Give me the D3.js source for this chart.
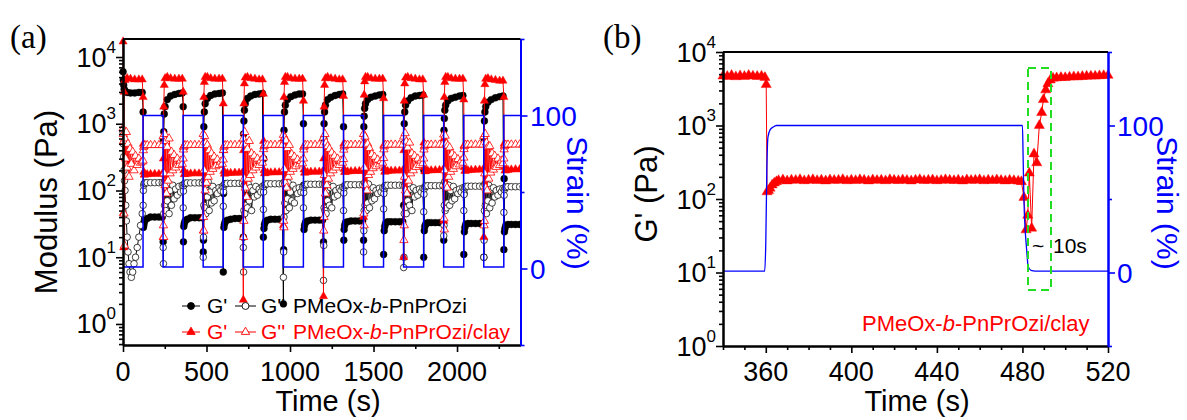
<!DOCTYPE html>
<html><head><meta charset="utf-8">
<script src="https://cdn.jsdelivr.net/npm/d3@7"></script>
<style>body{margin:0;background:#fff}svg{display:block;font-family:Arial,"Liberation Sans",sans-serif}</style>
</head><body><svg id="c" width="1187" height="420"></svg>
<script>
// ---------------- DATA ----------------
// Panel (a): 20 alternating 120 s segments (even = low strain / recovery, odd = 100 % strain)
const segmentSeconds = 120;
const offBar = [0.5, 2, 4, 7, 12, 25, 45, 70, 95, 115];
const offCloud = [0.5, 2, 4, 6, 9, 12, 16, 20, 25, 30, 36, 42, 50, 58, 66, 75, 85, 95, 105, 115];

// G' PMeOx-b-PnPrOzi (filled circles)
const neatGp = [
  [6000, 4500, 3800, 3300, 3100, 2950, 2900, 2900, 2950, 2950],
  [1500, 28, 30, 33, 36, 38, 40, 40, 40, 40],
  [17, 580, 760, 1400, 1800, 2300, 2600, 2750, 2850, 2900],
  [1800, 17, 29, 32, 35, 37, 39, 39, 39, 39],
  [12, 18, 900, 1500, 2000, 2400, 2650, 2800, 2850, 2900],
  [6, 90, 28, 31, 34, 36, 37, 38, 38, 38],
  [20, 700, 1100, 1600, 2000, 2400, 2600, 2750, 2800, 2850],
  [20, 300, 27, 31, 34, 36, 37, 37, 37, 37],
  [2, 13, 800, 1500, 1900, 2300, 2550, 2700, 2800, 2800],
  [1000, 120, 26, 30, 33, 35, 36, 36, 36, 36],
  [17, 600, 1000, 1500, 1900, 2300, 2500, 2650, 2750, 2800],
  [900, 18, 26, 30, 33, 34, 35, 35, 35, 35],
  [18, 900, 1300, 1700, 2000, 2300, 2500, 2600, 2700, 2750],
  [11, 100, 25, 29, 32, 34, 34, 34, 34, 34],
  [60, 500, 1000, 1500, 1900, 2200, 2450, 2600, 2650, 2700],
  [10, 200, 25, 29, 31, 33, 33, 33, 33, 33],
  [18, 800, 1200, 1600, 1900, 2200, 2400, 2500, 2600, 2650],
  [11, 90, 24, 28, 31, 32, 32, 32, 32, 32],
  [10, 600, 1100, 1500, 1800, 2100, 2300, 2450, 2550, 2600],
  [13, 150, 24, 27, 30, 31, 31, 31, 31, 31]
];
// G'' PMeOx-b-PnPrOzi (open circles)
const neatGpp = [
  [750, 500, 320, 200, 140, 100, 60, 35, 20, 12, 8, 6, 5, 6, 8, 10, 14, 20, 30, 45],
  [60, 100, 120, 128, 130, 131, 131, 131, 131, 131],
  [14, 8, 45, 130, 60, 140, 50, 110, 70, 130, 45, 100, 60, 120, 75, 105, 85, 115, 95, 120],
  [55, 98, 118, 126, 129, 130, 130, 130, 130, 130],
  [10, 20, 60, 140, 55, 120, 45, 100, 80, 135, 50, 95, 65, 115, 70, 100, 90, 110, 100, 115],
  [58, 96, 116, 124, 127, 128, 128, 128, 128, 128],
  [14, 6, 50, 120, 45, 135, 60, 105, 55, 125, 70, 110, 50, 100, 80, 115, 85, 105, 95, 115],
  [52, 95, 114, 122, 125, 126, 126, 126, 126, 126],
  [5, 12, 40, 135, 65, 125, 50, 110, 75, 130, 55, 95, 70, 120, 65, 105, 90, 110, 95, 112],
  [55, 93, 112, 120, 123, 124, 124, 124, 124, 124],
  [4.5, 15, 55, 125, 50, 140, 45, 100, 70, 120, 60, 110, 55, 115, 80, 100, 85, 108, 100, 112],
  [50, 92, 110, 118, 121, 122, 122, 122, 122, 122],
  [12, 25, 50, 130, 60, 120, 50, 105, 65, 125, 55, 100, 70, 110, 75, 100, 90, 108, 95, 110],
  [53, 90, 108, 116, 119, 120, 120, 120, 120, 120],
  [7, 10, 45, 120, 55, 130, 45, 95, 70, 125, 60, 105, 50, 110, 80, 100, 85, 105, 95, 108],
  [48, 88, 106, 114, 117, 118, 118, 118, 118, 118],
  [21, 30, 60, 135, 50, 125, 55, 110, 65, 120, 60, 100, 70, 115, 75, 100, 90, 105, 95, 110],
  [50, 87, 105, 112, 115, 116, 116, 116, 116, 116],
  [10, 18, 50, 125, 60, 130, 45, 100, 70, 120, 55, 105, 65, 110, 80, 100, 85, 105, 95, 108],
  [47, 85, 103, 110, 113, 114, 114, 114, 114, 114]
];
// G' PMeOx-b-PnPrOzi/clay (filled triangles)
const clayGp = [
  [17000, 46, 14, 3000, 4500, 4800, 4700, 4600, 4600, 4600],
  [2500, 500, 190, 172, 174, 175, 176, 177, 177, 178],
  [20, 300, 1800, 3800, 4800, 5000, 4800, 4700, 4700, 4700],
  [3000, 450, 200, 175, 177, 178, 179, 180, 180, 180],
  [25, 500, 2500, 4200, 5000, 5000, 4800, 4700, 4700, 4700],
  [2000, 400, 195, 178, 180, 182, 183, 184, 184, 185],
  [2.3, 400, 2000, 4000, 4900, 5000, 4800, 4700, 4600, 4600],
  [2800, 550, 200, 180, 183, 185, 186, 187, 187, 188],
  [30, 600, 2500, 4200, 5000, 5000, 4800, 4700, 4700, 4700],
  [2200, 450, 205, 184, 186, 188, 190, 191, 191, 192],
  [2.6, 300, 1800, 3800, 4800, 5000, 4800, 4700, 4600, 4600],
  [2600, 500, 210, 188, 190, 192, 194, 195, 195, 196],
  [40, 700, 2700, 4300, 5000, 5000, 4800, 4700, 4700, 4700],
  [2400, 480, 215, 190, 193, 195, 197, 198, 198, 199],
  [10, 400, 2200, 4000, 4900, 5000, 4800, 4700, 4600, 4600],
  [2700, 520, 220, 193, 196, 198, 200, 201, 202, 202],
  [35, 600, 2500, 4200, 5000, 5000, 4800, 4700, 4700, 4700],
  [2300, 470, 222, 196, 199, 200, 203, 204, 205, 205],
  [20, 500, 2200, 3900, 4700, 4800, 4600, 4500, 4400, 4400],
  [2500, 500, 225, 198, 201, 203, 206, 207, 208, 208]
];
// G'' PMeOx-b-PnPrOzi/clay (open triangles)
const clayGpp = [
  [850, 700, 550, 45, 15, 600, 300, 750, 220, 500, 160, 420, 250, 380, 200, 330, 240, 300, 260, 270],
  [280, 400, 450, 470, 475, 478, 478, 478, 478, 478],
  [650, 30, 20, 180, 700, 120, 550, 90, 450, 140, 600, 180, 380, 200, 340, 220, 300, 240, 280, 250],
  [300, 410, 455, 472, 476, 478, 480, 480, 480, 480],
  [700, 40, 25, 200, 650, 100, 520, 130, 480, 160, 400, 190, 360, 210, 320, 230, 290, 240, 270, 250],
  [290, 405, 452, 470, 476, 479, 480, 481, 481, 481],
  [600, 20, 35, 150, 750, 110, 500, 80, 420, 150, 550, 170, 360, 200, 330, 220, 300, 240, 280, 260],
  [310, 415, 458, 474, 478, 480, 482, 482, 482, 482],
  [680, 35, 28, 210, 620, 130, 560, 110, 430, 160, 480, 190, 350, 210, 320, 230, 290, 245, 275, 255],
  [300, 410, 455, 472, 478, 481, 483, 483, 483, 483],
  [620, 25, 40, 170, 700, 90, 520, 120, 460, 150, 420, 180, 370, 200, 330, 220, 300, 240, 280, 260],
  [295, 408, 456, 473, 479, 482, 484, 484, 484, 484],
  [700, 45, 30, 220, 640, 120, 480, 100, 500, 170, 430, 190, 350, 215, 320, 230, 290, 245, 275, 260],
  [305, 412, 458, 475, 480, 483, 485, 485, 485, 485],
  [640, 18, 30, 160, 720, 100, 540, 90, 440, 140, 520, 180, 360, 200, 330, 225, 300, 240, 280, 255],
  [300, 410, 457, 474, 480, 484, 486, 486, 486, 486],
  [690, 38, 26, 200, 660, 120, 500, 110, 470, 160, 440, 190, 355, 210, 325, 230, 295, 245, 280, 260],
  [310, 415, 460, 476, 482, 485, 487, 487, 487, 487],
  [650, 30, 35, 180, 700, 110, 520, 100, 450, 150, 460, 185, 360, 205, 330, 225, 300, 240, 280, 255],
  [300, 412, 458, 475, 482, 486, 488, 488, 488, 488]
];
// strain (%) panel (a): [time s, strain %]
const strainA = [[0,1],[120,1],[120,100],[240,100],[240,1],[360,1],[360,100],[480,100],[480,1],[600,1],[600,100],[720,100],[720,1],[840,1],[840,100],[960,100],[960,1],[1080,1],[1080,100],[1200,100],[1200,1],[1320,1],[1320,100],[1440,100],[1440,1],[1560,1],[1560,100],[1680,100],[1680,1],[1800,1],[1800,100],[1920,100],[1920,1],[2040,1],[2040,100],[2160,100],[2160,1],[2280,1],[2280,100],[2380,100]];

// Panel (b): G' of PMeOx-b-PnPrOzi/clay [time s, Pa]
const clayGpB = [[340,4700],[342,4650],[344,4800],[346,4600],[348,4750],[350,4650],[352,4800],[354,4700],[356,4650],[358,4700],[359.6,4500],
 [360.2,3600],[360.6,125],[361.3,130],[362,140],[363,155],[364,165],[365,172],
 [366,178],[368,182],[370,176],[372,181],[374,179],[376,184],[378,177],[380,180],[382,183],[384,178],[386,181],[388,176],[390,182],[392,179],[394,180],[396,184],[398,177],[400,181],[402,178],[404,183],[406,180],[408,176],[410,182],[412,179],[414,181],[416,177],[418,183],[420,180],[422,178],[424,182],[426,179],[428,176],[430,181],[432,184],[434,178],[436,180],[438,182],[440,177],[442,179],[444,183],[446,180],[448,178],[450,181],[452,176],[454,182],[456,179],[458,180],[460,183],[462,177],[464,181],[466,178],[468,182],[470,179],[472,176],[474,180],[476,178],[478,175],[479.5,172],
 [480.7,105],[481.7,38],[482.5,60],[483.2,225],[484.3,40],[485.4,410],[486.7,310],[487.9,1000],[489,1500],[489.8,2250],[490.9,3050],[491.9,3700],[493,4150],[494.3,4400],[496,4450],[498,4500],[500,4480],[502,4550],[504,4600],[506,4580],[508,4650],[510,4680],[512,4700],[514,4690],[516,4750],[518,4780],[520,4800]];
const strainB = [[340,1],[359.5,1],[360,20],[360.5,70],[361,92],[362,97],[363.5,99],[365,100],[480,100],[480.3,80],[480.7,49],[482,15],[482.7,4],[484,1.5],[486,1],[520,1]];

const xTicksA = [0, 500, 1000, 1500, 2000];
const xMinorA = [250, 750, 1250, 1750, 2250];
const xTicksB = [360, 400, 440, 480, 520];
const yExpA = [0, 1, 2, 3, 4];
const yExpB = [0, 1, 2, 3, 4];
const strainTicks = [0, 100];
const strainMinor = [-50, 50, 150];
const legendNames = ['PMeOx-b-PnPrOzi', 'PMeOx-b-PnPrOzi/clay'];

// ---------------- DRAW ----------------
const RED = '#ff0000', BLUE = '#0000ff', BLK = '#000';
const SERIF = '"Liberation Serif","Times New Roman",serif';
const svg = d3.select('#c');

function expand(segs, lowOff) {
  const pts = [];
  segs.forEach((vals, i) => {
    const off = (i % 2 === 0) ? lowOff : offBar;
    vals.forEach((v, j) => pts.push({ t: i * segmentSeconds + off[j], v }));
  });
  return pts;
}
function drawSeries(g, pts, x, y, color, filled, shape, size, sw) {
  g.append('path').datum(pts).attr('fill', 'none').attr('stroke', color).attr('stroke-width', sw || 1)
    .attr('d', d3.line().x(d => x(d.t)).y(d => y(d.v)));
  const sym = d3.symbol().type(shape === 'tri' ? d3.symbolTriangle : d3.symbolCircle).size(size);
  g.append('g').selectAll('path').data(pts).join('path')
    .attr('transform', d => `translate(${x(d.t)},${y(d.v)})`).attr('d', sym)
    .attr('fill', filled ? color : '#fff').attr('stroke', color)
    .attr('stroke-width', filled ? 0.4 : 0.8);
}
function powLabel(g, x, y, e, fs) {
  const t = g.append('text').attr('x', x).attr('y', y + 9.5).attr('text-anchor', 'end').attr('font-size', fs).attr('fill', BLK);
  t.append('tspan').text('10');
  t.append('tspan').attr('dy', -14).attr('font-size', 17).text(e);
}
function nameText(t, name) {
  const parts = name.split('-b-');
  t.append('tspan').text(parts[0] + '-');
  t.append('tspan').attr('font-style', 'italic').text('b');
  t.append('tspan').text('-' + parts[1]);
}
function minorLog(scale) {
  return scale.ticks().filter(v => Math.abs(Math.log10(v) - Math.round(Math.log10(v))) > 1e-6);
}

// ===== Panel A =====
const A = { l: 123, r: 520.5, t: 39, b: 345 };
const xA = d3.scaleLinear().domain([0, 2380]).range([A.l, A.r]);
const yA = d3.scaleLog().domain([Math.pow(10, -0.315), Math.pow(10, 4.27)]).range([A.b, A.t]);
const y2A = d3.scaleLinear().domain([-50, 150]).range([A.b, A.t]);

svg.append('clipPath').attr('id', 'clipA').append('rect').attr('x', A.l - 10).attr('y', A.t - 10).attr('width', A.r - A.l + 10).attr('height', A.b - A.t + 20);
const gA = svg.append('g').attr('clip-path', 'url(#clipA)');
drawSeries(gA, expand(neatGp, offBar), xA, yA, BLK, true, 'circle', 38);
drawSeries(gA, expand(neatGpp, offCloud), xA, yA, '#111', false, 'circle', 34);
drawSeries(gA, expand(clayGp, offBar), xA, yA, RED, true, 'tri', 30);
drawSeries(gA, expand(clayGpp, offCloud), xA, yA, RED, false, 'tri', 30);
gA.append('path').datum(strainA).attr('fill', 'none').attr('stroke', BLUE).attr('stroke-width', 1.5)
  .attr('d', d3.line().x(d => xA(d[0])).y(d => y2A(d[1])));

// axes A
const axA = svg.append('g');
axA.append('g').attr('transform', `translate(0,${A.b})`).call(d3.axisBottom(xA).tickValues(xTicksA).tickSize(7).tickSizeOuter(0).tickFormat(''));
axA.append('g').attr('transform', `translate(0,${A.b})`).call(d3.axisBottom(xA).tickValues(xMinorA).tickSize(4).tickSizeOuter(0).tickFormat(''));
axA.append('g').attr('transform', `translate(${A.l},0)`).call(d3.axisLeft(yA).tickValues(yExpA.map(e => Math.pow(10, e))).tickSize(7).tickSizeOuter(0).tickFormat(''));
axA.append('g').attr('transform', `translate(${A.l},0)`).call(d3.axisLeft(yA).tickValues(minorLog(yA)).tickSize(4).tickSizeOuter(0).tickFormat(''));
axA.selectAll('path.domain').attr('stroke', BLK).attr('stroke-width', 2);
axA.selectAll('line').attr('stroke', BLK).attr('stroke-width', 1.6);
const axA2 = svg.append('g').attr('transform', `translate(${A.r},0)`);
axA2.append('g').call(d3.axisRight(y2A).tickValues(strainTicks).tickSize(7).tickSizeOuter(0).tickFormat(''));
axA2.append('g').call(d3.axisRight(y2A).tickValues(strainMinor).tickSize(4).tickSizeOuter(0).tickFormat(''));
axA2.selectAll('path.domain').attr('stroke', BLUE).attr('stroke-width', 2);
axA2.selectAll('line').attr('stroke', BLUE).attr('stroke-width', 1.6);
svg.append('line').attr('x1', A.l).attr('x2', A.r).attr('y1', A.t).attr('y2', A.t).attr('stroke', BLK).attr('stroke-width', 2);

// labels A
xTicksA.forEach(v => svg.append('text').attr('x', xA(v)).attr('y', 381).attr('text-anchor', 'middle').attr('font-size', 27).text(v));
yExpA.forEach(e => powLabel(svg, 116, yA(Math.pow(10, e)), e, 27));
strainTicks.forEach(v => svg.append('text').attr('x', 530).attr('y', y2A(v) + 10).attr('font-size', 28).attr('fill', BLUE).text(v));
svg.append('text').attr('x', 328).attr('y', 411).attr('text-anchor', 'middle').attr('font-size', 29).text('Time (s)');
svg.append('text').attr('transform', 'translate(57,202) rotate(-90)').attr('text-anchor', 'middle').attr('font-size', 31).text('Modulus (Pa)');
svg.append('text').attr('transform', 'translate(567,203) rotate(90)').attr('text-anchor', 'middle').attr('font-size', 30).attr('fill', BLUE).text('Strain (%)');
svg.append('text').attr('x', 10).attr('y', 48).style('font-family', SERIF).attr('font-size', 33).text('(a)');

// legend A
const legRows = [
  { y: 306, color: BLK, shape: 'circle', size: 38, name: legendNames[0] },
  { y: 332, color: RED, shape: 'tri', size: 30, name: legendNames[1] }
];
legRows.forEach(r => {
  [[182, 200, true], [235, 256, false]].forEach(([x1, x2, filled]) => {
    svg.append('line').attr('x1', x1).attr('x2', x2).attr('y1', r.y).attr('y2', r.y).attr('stroke', r.color).attr('stroke-width', 1);
    svg.append('path').attr('transform', `translate(${(x1 + x2) / 2},${r.y})`)
      .attr('d', d3.symbol().type(r.shape === 'tri' ? d3.symbolTriangle : d3.symbolCircle).size(r.size)())
      .attr('fill', filled ? r.color : '#fff').attr('stroke', r.color).attr('stroke-width', 0.9);
  });
  svg.append('text').attr('x', 207).attr('y', r.y + 7).attr('font-size', 21).attr('fill', r.color).text("G'");
  svg.append('text').attr('x', 261).attr('y', r.y + 7).attr('font-size', 21).attr('fill', r.color).text("G''");
  nameText(svg.append('text').attr('x', 293).attr('y', r.y + 7).attr('font-size', 21).attr('fill', r.color), r.name);
});

// ===== Panel B =====
const B = { l: 723, r: 1108, t: 52, b: 346 };
const xB = d3.scaleLinear().domain([340, 520]).range([B.l, B.r]);
const yB = d3.scaleLog().domain([1, 1e4]).range([B.b, B.t]);
const y2B = d3.scaleLinear().domain([-50, 150]).range([B.b, B.t]);
const gB = svg.append('g');
drawSeries(gB, clayGpB.map(d => ({ t: d[0], v: d[1] })), xB, yB, RED, true, 'tri', 45);
gB.append('path').datum(strainB).attr('fill', 'none').attr('stroke', BLUE).attr('stroke-width', 1.3)
  .attr('d', d3.line().curve(d3.curveMonotoneX).x(d => xB(d[0])).y(d => y2B(d[1])));

const axB = svg.append('g');
axB.append('g').attr('transform', `translate(0,${B.b})`).call(d3.axisBottom(xB).tickValues(xTicksB).tickSize(7).tickSizeOuter(0).tickFormat(''));
axB.append('g').attr('transform', `translate(0,${B.b})`).call(d3.axisBottom(xB).tickValues(d3.range(340, 521, 10).filter(v => !xTicksB.includes(v))).tickSize(4).tickSizeOuter(0).tickFormat(''));
axB.append('g').attr('transform', `translate(${B.l},0)`).call(d3.axisLeft(yB).tickValues(yExpB.map(e => Math.pow(10, e))).tickSize(7).tickSizeOuter(0).tickFormat(''));
axB.append('g').attr('transform', `translate(${B.l},0)`).call(d3.axisLeft(yB).tickValues(minorLog(yB)).tickSize(4).tickSizeOuter(0).tickFormat(''));
axB.selectAll('path.domain').attr('stroke', BLK).attr('stroke-width', 2);
axB.selectAll('line').attr('stroke', BLK).attr('stroke-width', 1.6);
const axB2 = svg.append('g').attr('transform', `translate(${B.r},0)`);
axB2.append('g').call(d3.axisRight(y2B).tickValues(strainTicks).tickSize(7).tickSizeOuter(0).tickFormat(''));
axB2.append('g').call(d3.axisRight(y2B).tickValues(strainMinor).tickSize(4).tickSizeOuter(0).tickFormat(''));
axB2.selectAll('path.domain').attr('stroke', BLUE).attr('stroke-width', 2);
axB2.selectAll('line').attr('stroke', BLUE).attr('stroke-width', 1.6);
svg.append('line').attr('x1', B.l).attr('x2', B.r).attr('y1', B.t).attr('y2', B.t).attr('stroke', BLK).attr('stroke-width', 2);

xTicksB.forEach(v => svg.append('text').attr('x', xB(v)).attr('y', 381).attr('text-anchor', 'middle').attr('font-size', 27).text(v));
yExpB.forEach(e => powLabel(svg, 716, yB(Math.pow(10, e)), e, 27));
strainTicks.forEach(v => svg.append('text').attr('x', 1117).attr('y', y2B(v) + 10).attr('font-size', 28).attr('fill', BLUE).text(v));
svg.append('text').attr('x', 917).attr('y', 411).attr('text-anchor', 'middle').attr('font-size', 29).text('Time (s)');
svg.append('text').attr('transform', 'translate(657,194) rotate(-90)').attr('text-anchor', 'middle').attr('font-size', 31).text("G' (Pa)");
svg.append('text').attr('transform', 'translate(1157,203) rotate(90)').attr('text-anchor', 'middle').attr('font-size', 30).attr('fill', BLUE).text('Strain (%)');
svg.append('text').attr('x', 603).attr('y', 48).style('font-family', SERIF).attr('font-size', 33).text('(b)');

// annotations B
svg.append('rect').attr('x', 1028).attr('y', 68).attr('width', 23).attr('height', 222)
  .attr('fill', 'none').attr('stroke', '#22dd22').attr('stroke-width', 2).attr('stroke-dasharray', '8,5');
const tA = svg.append('text').attr('y', 253).attr('font-size', 21).attr('fill', BLK);
tA.append('tspan').attr('x', 1032).text('~');
tA.append('tspan').attr('x', 1053).text('10s');
nameText(svg.append('text').attr('x', 862).attr('y', 331).attr('font-size', 22).attr('fill', RED), legendNames[1]);
</script></body></html>
